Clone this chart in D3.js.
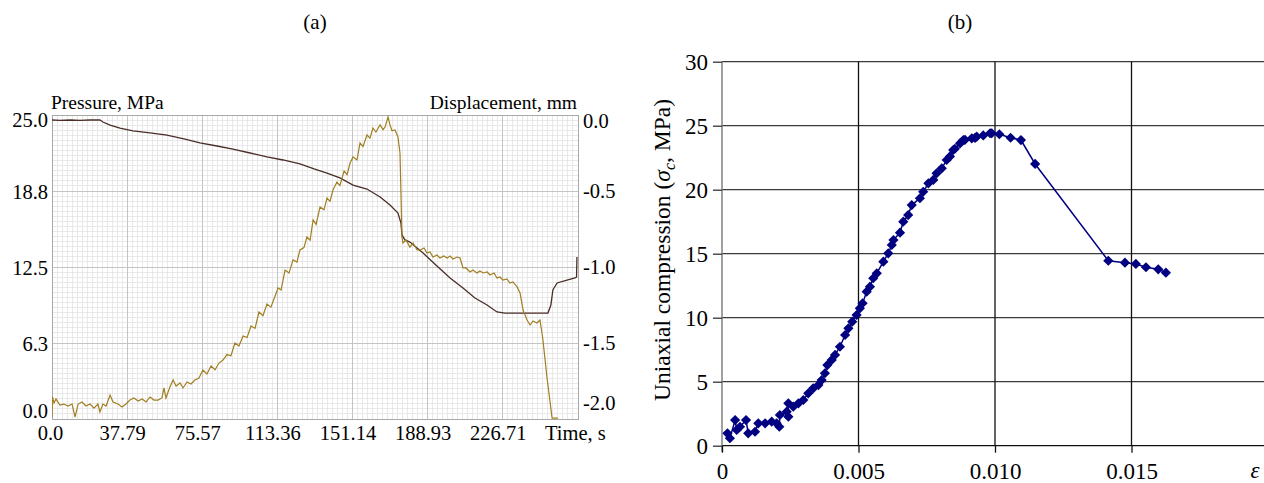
<!DOCTYPE html>
<html><head><meta charset="utf-8">
<script src="https://cdn.jsdelivr.net/npm/d3@7"></script>
<style>body{margin:0;background:#fff;overflow:hidden} svg{display:block} text{font-family:'Liberation Serif','Times New Roman',serif}</style>
</head><body>
<svg id="c" width="1264" height="483"></svg>
<script>
// ---------- (a) data ----------
const timeTickVals = [0, 37.79, 75.57, 113.36, 151.14, 188.93, 226.71];
const timeTickLabels = ["0.0", "37.79", "75.57", "113.36", "151.14", "188.93", "226.71"];
const pressTickVals = [0, 6.25, 12.5, 18.75, 25];
const pressTickLabels = ["0.0", "6.3", "12.5", "18.8", "25.0"];
const dispTickVals = [0, -0.5, -1.0, -1.5, -2.0];
const dispTickLabels = ["0.0", "-0.5", "-1.0", "-1.5", "-2.0"];

const timeP = [0,0.25,1.0,2.0,4.0,6.0,8.0,10.1,11.6,13.1,15.1,17.1,19.1,21.1,23.1,24.1,25.6,27.2,29.2,30.7,33.2,35.2,37.2,39.2,41.2,43.3,45.3,47.3,49.3,51.3,53.3,55.3,56.3,57.3,59.3,60.9,62.4,64.4,65.9,67.9,69.9,71.9,73.9,75.9,77.9,80.0,82.0,84.0,86.0,88.0,90.0,92.0,94.0,96.1,98.1,100.1,102.1,104.1,106.1,108.1,110.1,112.2,113.7,115.2,117.2,119.2,121.2,123.2,124.7,126.7,128.2,129.8,131.3,132.8,134.8,136.8,138.3,139.8,141.3,143.3,144.8,146.9,148.4,149.9,151.4,153.4,154.9,156.4,158.4,159.9,161.4,162.9,165.0,166.5,167.5,169.0,170.0,171.0,172.5,174.0,175.0,175.5,176.0,176.5,178.0,180.0,181.6,183.6,185.1,187.1,188.6,190.1,191.6,193.6,195.1,197.1,198.7,200.2,201.7,203.7,205.2,206.7,208.2,210.2,211.7,213.7,215.2,216.8,218.8,220.3,222.3,223.8,225.3,226.8,228.8,230.3,231.8,233.9,235.4,236.9,238.9,240.4,241.9,243.9,245.4,246.4,246.9,248.9,251.5,254.5];
const pressure = [0.16,1.81,1.32,1.64,1.15,1.23,1.07,1.23,0.16,1.23,1.40,1.07,1.23,0.90,1.23,0.58,1.23,1.07,1.97,1.40,1.23,0.99,1.23,1.56,1.73,1.48,1.64,1.40,1.81,1.56,1.56,1.73,2.55,1.73,2.63,3.21,2.71,2.96,2.55,3.04,2.88,3.21,3.37,4.03,3.70,4.36,4.05,4.60,4.85,5.30,5.20,6.25,6.00,6.83,6.70,7.65,7.45,8.80,8.50,9.46,9.20,10.12,10.77,10.60,12.25,12.00,13.08,12.90,13.90,14.10,14.97,14.70,16.37,16.00,17.43,17.20,18.17,17.90,18.83,19.49,19.20,20.40,20.10,21.05,21.55,21.30,22.70,22.40,23.36,23.10,23.93,23.60,24.18,23.80,24.01,24.84,24.18,23.70,23.77,23.19,21.88,18.59,14.97,14.47,14.72,14.14,14.47,13.90,13.90,14.06,13.65,13.73,13.32,13.49,13.24,13.40,13.24,13.40,13.16,13.32,13.24,12.42,12.42,12.09,12.25,12.01,12.17,12.01,12.09,11.84,12.01,11.60,11.68,11.43,11.51,11.18,11.27,10.86,10.36,8.96,8.14,7.73,8.06,7.90,8.14,7.07,6.50,3.45,0.08,0.08];

const timeD = [0,4.0,9.1,14.1,19.1,24.1,25.6,29.2,34.2,40.7,49.3,57.8,66.9,74.4,83.0,91.0,99.6,108.1,116.2,124.7,131.8,138.3,144.8,151.4,158.4,165.0,170.0,174.0,175.5,176.0,177.5,180.0,186.6,193.6,200.2,206.7,212.7,218.8,223.8,227.8,236.9,249.4,250.9,251.9,254.0,259.0,263.0,263.8,264.0];
const displacement = [-0.033,-0.036,-0.033,-0.036,-0.033,-0.033,-0.046,-0.066,-0.086,-0.105,-0.118,-0.132,-0.158,-0.184,-0.204,-0.224,-0.250,-0.276,-0.296,-0.322,-0.355,-0.382,-0.414,-0.461,-0.487,-0.539,-0.592,-0.645,-0.711,-0.789,-0.822,-0.836,-0.908,-0.993,-1.072,-1.138,-1.204,-1.250,-1.296,-1.303,-1.303,-1.303,-1.250,-1.151,-1.105,-1.086,-1.072,-1.066,-0.934];

// ---------- (b) data ----------
const strainTickVals = [0, 0.005, 0.010, 0.015];
const strainTickLabels = ["0", "0.005", "0.010", "0.015"];
const stressTickVals = [0, 5, 10, 15, 20, 25, 30];
const strain = [0.00020,0.00029,0.00048,0.00054,0.00066,0.00088,0.00096,0.00121,0.00133,0.00158,0.00182,0.00200,0.00210,0.00212,0.00237,0.00243,0.00243,0.00261,0.00280,0.00298,0.00316,0.00334,0.00353,0.00365,0.00377,0.00386,0.00402,0.00414,0.00432,0.00451,0.00463,0.00477,0.00493,0.00505,0.00515,0.00530,0.00542,0.00554,0.00567,0.00591,0.00609,0.00622,0.00628,0.00652,0.00664,0.00682,0.00695,0.00725,0.00737,0.00756,0.00774,0.00786,0.00805,0.00823,0.00835,0.00847,0.00853,0.00872,0.00884,0.00890,0.00915,0.00927,0.00933,0.00957,0.00982,0.00988,0.01016,0.01057,0.01095,0.01147,0.01415,0.01476,0.01516,0.01553,0.01598,0.01626];
const stress = [0.97,0.58,2.00,1.23,1.48,2.00,0.97,1.09,1.75,1.75,1.88,1.75,1.48,2.40,2.66,2.27,3.31,3.05,3.31,3.57,4.09,4.48,4.74,5.13,5.66,6.30,6.70,7.09,7.73,8.65,9.17,9.69,10.21,10.73,11.13,12.03,12.42,13.08,13.47,14.38,15.03,15.68,16.07,16.64,17.50,18.02,18.80,19.33,19.84,20.50,20.76,21.28,21.67,22.32,22.60,23.10,23.20,23.62,23.88,23.90,24.01,24.05,24.14,24.24,24.41,24.41,24.33,24.06,23.88,22.01,14.45,14.30,14.20,13.94,13.78,13.52];

const serif = "'Liberation Serif','Times New Roman',serif";
const svg = d3.select("#c").style("font-family", serif);

// ================= Chart (a) =================
const A = {l: 52, r: 578, t: 115, b: 419};
const xA = d3.scaleLinear().domain([0, 264.53]).range([A.l, A.r]);
const yP = d3.scaleLinear().domain([0, 25]).range([A.b, A.t]);
const yD = d3.scaleLinear().domain([-2, 0]).range([A.b, A.t]);

const ga = svg.append("g");
const minorX = d3.range(0, 105).map(i => i * 37.79 / 15);
const minorY = d3.range(0, 61).map(i => i * 6.25 / 15);
ga.append("g").selectAll("line").data(minorX).join("line")
  .attr("x1", d => xA(d)).attr("x2", d => xA(d)).attr("y1", A.t).attr("y2", A.b)
  .attr("stroke", "#e4e4e4").attr("stroke-width", 0.8).attr("shape-rendering", "crispEdges");
ga.append("g").selectAll("line").data(minorY).join("line")
  .attr("x1", A.l).attr("x2", A.r).attr("y1", d => yP(d)).attr("y2", d => yP(d))
  .attr("stroke", "#e4e4e4").attr("stroke-width", 0.8).attr("shape-rendering", "crispEdges");
ga.append("g").selectAll("line").data(timeTickVals).join("line")
  .attr("x1", d => xA(d)).attr("x2", d => xA(d)).attr("y1", A.t).attr("y2", A.b)
  .attr("stroke", "#c4c4c4").attr("stroke-width", 1).attr("shape-rendering", "crispEdges");
ga.append("g").selectAll("line").data(pressTickVals).join("line")
  .attr("x1", A.l).attr("x2", A.r).attr("y1", d => yP(d)).attr("y2", d => yP(d))
  .attr("stroke", "#c4c4c4").attr("stroke-width", 1).attr("shape-rendering", "crispEdges");
ga.append("rect").attr("x", A.l).attr("y", A.t).attr("width", A.r - A.l).attr("height", A.b - A.t)
  .attr("fill", "none").attr("stroke", "#a8a8a8").attr("shape-rendering", "crispEdges");

svg.append("clipPath").attr("id", "clipA").append("rect")
  .attr("x", A.l).attr("y", A.t - 1).attr("width", A.r - A.l).attr("height", A.b - A.t + 1);

const lineP = d3.line().x(d => xA(d[0])).y(d => yP(d[1]));
const lineD = d3.line().x(d => xA(d[0])).y(d => yD(d[1]));
ga.append("path").datum(timeD.map((t, i) => [t, displacement[i]]))
  .attr("d", lineD).attr("fill", "none").attr("stroke", "#4b2d28").attr("stroke-width", 1.3)
  .attr("clip-path", "url(#clipA)");
ga.append("path").datum(timeP.map((t, i) => [t, pressure[i]]))
  .attr("d", lineP).attr("fill", "none").attr("stroke", "#a07e22").attr("stroke-width", 1.2)
  .attr("clip-path", "url(#clipA)");

const fsA = 20.5;
const axA = d3.axisBottom(xA).tickValues(timeTickVals).tickFormat((d, i) => timeTickLabels[i]).tickSize(0).tickPadding(0);
const gx = ga.append("g").attr("transform", `translate(0,${A.b})`).call(axA);
gx.select(".domain").remove();
gx.selectAll("text").attr("font-family", serif).attr("font-size", fsA).attr("fill", "#000")
  .attr("y", 21).attr("dy", 0).attr("dx", (d, i) => i === 0 ? -2 : -5);
ga.append("text").attr("x", 545).attr("y", A.b + 21).attr("font-size", fsA).text("Time, s");

const axL = d3.axisLeft(yP).tickValues(pressTickVals).tickFormat((d, i) => pressTickLabels[i]).tickSize(0).tickPadding(4);
const gl = ga.append("g").attr("transform", `translate(${A.l},0)`).call(axL);
gl.select(".domain").remove();
gl.selectAll("text").attr("font-family", serif).attr("font-size", fsA).attr("fill", "#000")
  .attr("dy", (d, i) => i === 0 ? "-0.05em" : (i === 4 ? "0.55em" : "0.35em"));

const axR = d3.axisRight(yD).tickValues(dispTickVals).tickFormat((d, i) => dispTickLabels[i]).tickSize(0).tickPadding(5);
const gr = ga.append("g").attr("transform", `translate(${A.r},0)`).call(axR);
gr.select(".domain").remove();
gr.selectAll("text").attr("font-family", serif).attr("font-size", fsA).attr("fill", "#000")
  .attr("dy", (d, i) => i === 0 ? "0.6em" : (i === 4 ? "-0.45em" : "0.3em"));

ga.append("text").attr("x", 51).attr("y", 109).attr("font-size", 19.5).text("Pressure, MPa");
ga.append("text").attr("x", 577).attr("y", 109).attr("text-anchor", "end").attr("font-size", 19.5).text("Displacement, mm");
ga.append("text").attr("x", 315).attr("y", 29).attr("text-anchor", "middle").attr("font-size", 21).text("(a)");

// ================= Chart (b) =================
const B = {l: 722, r: 1268, t: 61.7, b: 445.7};
const xB = d3.scaleLinear().domain([0, 0.02]).range([B.l, B.r]);
const yB = d3.scaleLinear().domain([0, 30]).range([B.b, B.t]);
const gb = svg.append("g");

gb.append("g").selectAll("line").data(stressTickVals).join("line")
  .attr("x1", B.l).attr("x2", 1264).attr("y1", d => yB(d)).attr("y2", d => yB(d))
  .attr("stroke", d => d === 0 ? "#111" : "#3a3a3a").attr("stroke-width", 1.3);
gb.append("g").selectAll("line").data(strainTickVals.slice(1)).join("line")
  .attr("x1", d => xB(d)).attr("x2", d => xB(d)).attr("y1", B.t).attr("y2", B.b)
  .attr("stroke", "#111").attr("stroke-width", 1.3);

const fsB = 23;
const axBL = d3.axisLeft(yB).tickValues(stressTickVals).tickSize(9).tickPadding(5).tickFormat(d3.format("d"));
const gbl = gb.append("g").attr("transform", `translate(${B.l},0)`).call(axBL);
gbl.select(".domain").attr("stroke", "#808080").attr("stroke-width", 1.5)
  .attr("d", `M0,${B.t}V${B.b + 6}`);
gbl.selectAll(".tick line").attr("stroke", "#333").attr("stroke-width", 1.3);
gbl.selectAll("text").attr("font-family", serif).attr("font-size", fsB).attr("fill", "#000");

const axBB = d3.axisBottom(xB).tickValues(strainTickVals).tickFormat((d, i) => strainTickLabels[i]).tickSize(7).tickPadding(10);
const gbb = gb.append("g").attr("transform", `translate(0,${B.b})`).call(axBB);
gbb.select(".domain").remove();
gbb.selectAll(".tick line").attr("stroke", "#111").attr("stroke-width", 1.3);
gbb.selectAll("text").attr("font-family", serif).attr("font-size", fsB).attr("fill", "#000");

gb.append("text").attr("x", 1255).attr("y", 478).attr("text-anchor", "middle")
  .attr("font-size", fsB).attr("font-style", "italic").text("ε");

const yl = gb.append("text").attr("transform", "translate(670,250) rotate(-90)")
  .attr("text-anchor", "middle").attr("font-size", 23.5);
yl.append("tspan").text("Uniaxial compression (");
yl.append("tspan").attr("font-style", "italic").text("σ");
yl.append("tspan").attr("font-style", "italic").attr("font-size", 16).attr("dy", 5).text("c");
yl.append("tspan").attr("dy", -5).text(", MPa)");

gb.append("text").attr("x", 960).attr("y", 29).attr("text-anchor", "middle").attr("font-size", 21).text("(b)");

const ptsB = strain.map((e, i) => [e, stress[i]]);
gb.append("path").datum(ptsB).attr("d", d3.line().x(d => xB(d[0])).y(d => yB(d[1])))
  .attr("fill", "none").attr("stroke", "#000080").attr("stroke-width", 1.5);
const sym = d3.symbol(d3.symbolSquare, 52)();
gb.append("g").selectAll("path").data(ptsB).join("path")
  .attr("d", sym).attr("fill", "#000080")
  .attr("transform", d => `translate(${xB(d[0])},${yB(d[1])}) rotate(45)`);
</script>
</body></html>
